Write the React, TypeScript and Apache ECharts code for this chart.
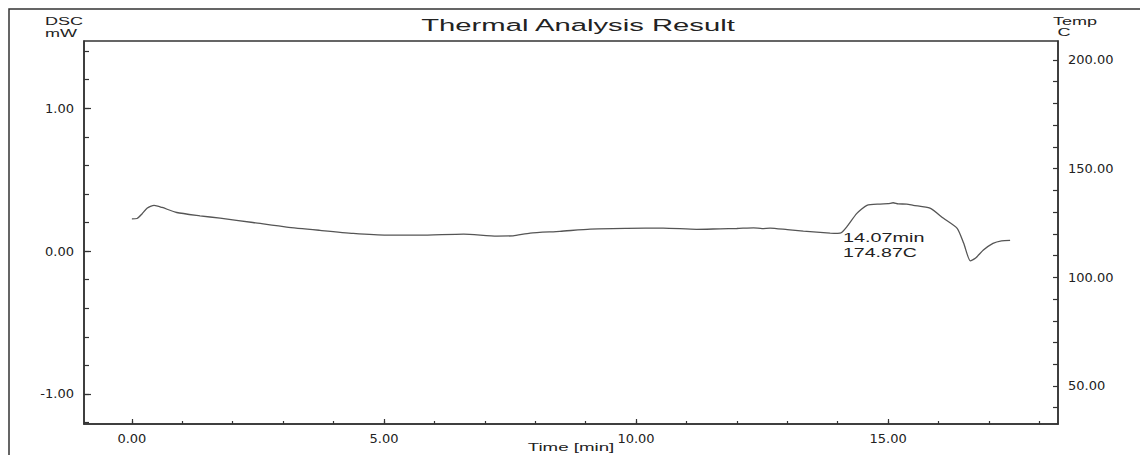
import React, { useEffect, useRef } from "react";
import * as echarts from "echarts";

// ---- data ----
const times = [
  0, 0.1, 0.2, 0.3, 0.44, 0.6, 0.89, 1.35, 1.75, 2.4, 3.07, 3.73, 4.39, 5.06,
  5.71, 6.58, 7.24, 7.56, 7.9, 8.49, 9.09, 9.82, 10.54, 11.2, 11.67, 12.0,
  12.33, 12.5, 12.66, 13.0, 13.32, 13.85, 14.0, 14.07, 14.18, 14.38, 14.58,
  14.84, 15.0, 15.1, 15.2, 15.37, 15.5, 15.83, 16.1, 16.37, 16.5, 16.63,
  16.73, 16.89, 17.08, 17.25, 17.42,
];
const dsc = [
  0.226, 0.228, 0.26, 0.3, 0.32, 0.305, 0.27, 0.247, 0.23, 0.2, 0.168, 0.145,
  0.124, 0.112, 0.112, 0.119, 0.105, 0.107, 0.126, 0.138, 0.154, 0.159, 0.161,
  0.152, 0.156, 0.158, 0.163, 0.157, 0.161, 0.15, 0.14, 0.126, 0.124, 0.128,
  0.17, 0.264, 0.32, 0.329, 0.332, 0.338, 0.33, 0.329, 0.32, 0.3, 0.229,
  0.159, 0.054, -0.068, -0.051, 0.007, 0.054, 0.072, 0.075,
];

const xTickValues = [0, 1, 2, 3, 4, 5, 6, 7, 8, 9, 10, 11, 12, 13, 14, 15, 16, 17, 18];
const xLabelValues = [0, 5, 10, 15];
const dscTickValues = [-1.2, -1.0, -0.8, -0.6, -0.4, -0.2, 0, 0.2, 0.4, 0.6, 0.8, 1.0, 1.2, 1.4];
const dscLabelValues = [-1, 0, 1];
const tempTickValues = [40, 50, 60, 70, 80, 90, 100, 110, 120, 130, 140, 150, 160, 170, 180, 190, 200];
const tempLabelValues = [50, 100, 150, 200];

const titleText = "Thermal Analysis Result";
const leftUnit = ["DSC", "mW"];
const rightUnit = ["Temp", "C"];
const xName = "Time [min]";
const annotation = ["14.07min", "174.87C"];

const X_MIN = -0.95;
const X_MAX = 18.37;
const DSC_MIN = -1.21;
const DSC_MAX = 1.47;
const T_MIN = 32.5;
const T_MAX = 208.7;

const AXIS_COLOR = "#333";
const TEXT_COLOR = "#222";
const LABEL_FONT = { fontFamily: "DejaVu Sans", fontSize: 13, color: TEXT_COLOR };
const SANS = "Liberation Sans, Arial, sans-serif";

function stretchedText(text: string, x: number, y: number, size: number, align: string, sx: number) {
  return {
    type: "text",
    x,
    y,
    scaleX: sx,
    silent: true,
    style: {
      text,
      x: 0,
      y: 0,
      fill: TEXT_COLOR,
      font: `${size}px ${SANS}`,
      textAlign: align,
      textVerticalAlign: "middle",
      verticalAlign: "middle",
    },
  };
}

export default function App() {
  const ref = useRef<HTMLDivElement>(null);

  useEffect(() => {
    if (!ref.current) return;
    const chart = echarts.init(ref.current, null, { renderer: "svg" });
    const data = times.map((t, i) => [t, dsc[i]]);

    const fmt = (v: number) => v.toFixed(2);

    chart.setOption({
      animation: false,
      backgroundColor: "#fff",
      grid: {
        left: 84,
        right: 82,
        top: 41,
        bottom: 31,
        show: true,
        borderColor: AXIS_COLOR,
        borderWidth: 1.5,
        backgroundColor: "transparent",
      },
      xAxis: [
        {
          type: "value",
          min: X_MIN,
          max: X_MAX,
          position: "bottom",
          axisLine: { show: true, onZero: false, lineStyle: { color: AXIS_COLOR, width: 1.5 } },
          axisTick: {
            show: true,
            inside: true,
            length: 3,
            customValues: xTickValues,
            lineStyle: { color: AXIS_COLOR, width: 1.2 },
          },
          axisLabel: {
            show: true,
            customValues: xLabelValues,
            formatter: fmt,
            margin: 8,
            ...LABEL_FONT,
          },
          splitLine: { show: false },
        },
        {
          type: "value",
          min: X_MIN,
          max: X_MAX,
          position: "bottom",
          axisLine: { show: false, onZero: false },
          axisTick: {
            show: true,
            inside: true,
            length: 5,
            customValues: xLabelValues,
            lineStyle: { color: AXIS_COLOR, width: 1.2 },
          },
          axisLabel: { show: false },
          splitLine: { show: false },
        },
      ],
      yAxis: [
        {
          type: "value",
          min: DSC_MIN,
          max: DSC_MAX,
          position: "left",
          axisLine: { show: true, onZero: false, lineStyle: { color: AXIS_COLOR, width: 1.5 } },
          axisTick: {
            show: true,
            inside: true,
            length: 5,
            customValues: dscTickValues,
            lineStyle: { color: AXIS_COLOR, width: 1.2 },
          },
          axisLabel: {
            show: true,
            customValues: dscLabelValues,
            formatter: fmt,
            margin: 10,
            ...LABEL_FONT,
          },
          splitLine: { show: false },
        },
        {
          type: "value",
          min: T_MIN,
          max: T_MAX,
          position: "right",
          axisLine: { show: true, onZero: false, lineStyle: { color: AXIS_COLOR, width: 1.5 } },
          axisTick: {
            show: true,
            inside: true,
            length: 5,
            customValues: tempTickValues,
            lineStyle: { color: AXIS_COLOR, width: 1.2 },
          },
          axisLabel: {
            show: true,
            customValues: tempLabelValues,
            formatter: fmt,
            margin: 10,
            ...LABEL_FONT,
          },
          splitLine: { show: false },
        },
        {
          type: "value",
          min: DSC_MIN,
          max: DSC_MAX,
          position: "left",
          offset: 0,
          axisLine: { show: false, onZero: false },
          axisTick: {
            show: true,
            inside: true,
            length: 7,
            customValues: dscLabelValues,
            lineStyle: { color: AXIS_COLOR, width: 1.2 },
          },
          axisLabel: { show: false },
          splitLine: { show: false },
        },
      ],
      series: [
        {
          type: "line",
          xAxisIndex: 0,
          yAxisIndex: 0,
          data,
          showSymbol: false,
          symbol: "none",
          smooth: 0.2,
          lineStyle: { color: "#555", width: 1.3 },
          silent: true,
        },
      ],
      graphic: [
        {
          type: "rect",
          silent: true,
          z: -1,
          shape: { x: 9, y: 9, width: 1300, height: 700 },
          style: { fill: "transparent", stroke: AXIS_COLOR, lineWidth: 1.5 },
        },
        stretchedText(titleText, 578, 25, 17, "center", 1.72),
        stretchedText(leftUnit[0], 64, 21, 11, "center", 1.64),
        stretchedText(leftUnit[1], 61, 33, 11, "center", 1.64),
        stretchedText(rightUnit[0], 1075, 21, 11, "center", 1.64),
        stretchedText(rightUnit[1], 1064, 32, 11, "center", 1.64),
        stretchedText(xName, 571, 447, 11, "center", 1.7),
        stretchedText(annotation[0], 843, 238, 12, "left", 1.65),
        stretchedText(annotation[1], 843, 253, 12, "left", 1.63),
      ],
    });

    return () => chart.dispose();
  }, []);

  return (
    <div
      ref={ref}
      style={{ position: "fixed", left: 0, top: 0, width: 1140, height: 455 }}
    />
  );
}
